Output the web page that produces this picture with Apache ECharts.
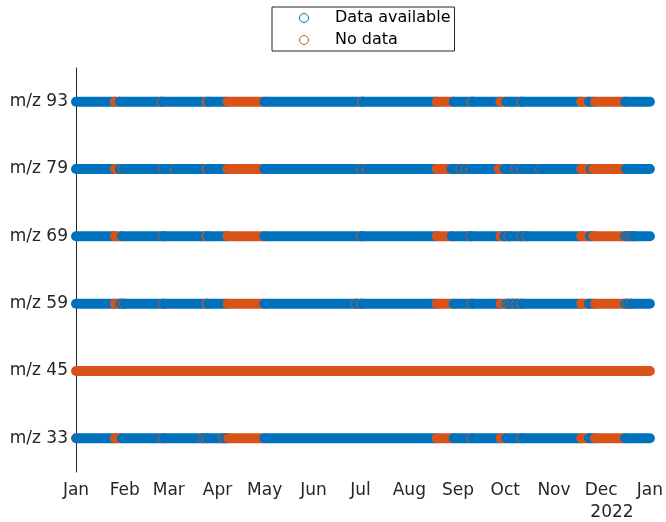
<!DOCTYPE html>
<html><head><meta charset="utf-8">
<script src="https://cdn.jsdelivr.net/npm/echarts@6/dist/echarts.min.js"></script>
<style>html,body{margin:0;padding:0;background:#fff}#c{width:666px;height:522px}</style>
</head><body><div id="c"></div>
<script>
// Channels, bottom to top
const categories = ['m/z 33', 'm/z 45', 'm/z 59', 'm/z 69', 'm/z 79', 'm/z 93'];
const monthLabels = ['Jan','Feb','Mar','Apr','May','Jun','Jul','Aug','Sep','Oct','Nov','Dec'];
const yearLabel = '2022';
const periodStart = '2022-01-01 00:00';
const periodEnd = '2023-01-01 00:00';

// "No data" periods per channel [start, end]; everything else is "Data available"
const gapsMz33 = [
  ['2022-01-01 00:00','2022-01-01 09:00'], ['2022-01-25 17:00','2022-01-30 04:00'],
  ['2022-02-25 03:00','2022-02-25 15:00'], ['2022-03-22 12:00','2022-03-23 00:00'],
  ['2022-03-25 00:00','2022-03-25 12:00'], ['2022-04-04 04:00','2022-04-04 16:00'],
  ['2022-04-06 01:00','2022-04-06 10:00'], ['2022-04-07 23:00','2022-04-30 18:00'],
  ['2022-08-18 09:00','2022-08-29 05:00'], ['2022-09-09 14:00','2022-09-10 02:00'],
  ['2022-09-28 00:00','2022-10-01 17:00'], ['2022-10-11 05:00','2022-10-11 17:00'],
  ['2022-11-18 07:00','2022-11-23 07:00'], ['2022-11-27 02:00','2022-12-16 05:00']
];
const gapsMz45 = [
  ['2022-01-01 00:00','2023-01-01 00:00']
];
const gapsMz59 = [
  ['2022-01-25 17:00','2022-01-28 21:00'], ['2022-01-29 12:00','2022-01-30 00:00'],
  ['2022-01-31 10:00','2022-01-31 22:00'], ['2022-02-25 03:00','2022-02-25 15:00'],
  ['2022-03-25 00:00','2022-03-25 23:00'], ['2022-04-07 08:00','2022-04-30 18:00'],
  ['2022-06-28 02:00','2022-06-28 14:00'], ['2022-07-01 06:00','2022-07-01 18:00'],
  ['2022-08-18 09:00','2022-08-29 05:00'], ['2022-09-09 14:00','2022-09-10 02:00'],
  ['2022-09-28 00:00','2022-10-01 17:00'], ['2022-10-03 00:00','2022-10-03 12:00'],
  ['2022-10-05 12:00','2022-10-06 00:00'], ['2022-10-08 02:00','2022-10-08 14:00'],
  ['2022-10-11 05:00','2022-10-11 17:00'], ['2022-11-18 07:00','2022-11-23 07:00'],
  ['2022-11-27 02:00','2022-12-16 05:00'], ['2022-12-17 12:00','2022-12-17 22:00'],
  ['2022-12-20 00:00','2022-12-20 10:00']
];
const gapsMz69 = [
  ['2022-01-25 17:00','2022-01-30 04:00'], ['2022-02-25 03:00','2022-02-25 15:00'],
  ['2022-03-25 00:00','2022-03-25 23:00'], ['2022-04-07 08:00','2022-04-30 18:00'],
  ['2022-07-01 06:00','2022-07-01 18:00'], ['2022-08-18 09:00','2022-08-27 21:00'],
  ['2022-09-08 22:00','2022-09-09 10:00'], ['2022-09-28 00:00','2022-09-30 12:00'],
  ['2022-10-03 00:00','2022-10-03 12:00'], ['2022-10-11 05:00','2022-10-11 17:00'],
  ['2022-10-14 10:00','2022-10-14 22:00'], ['2022-11-18 07:00','2022-11-24 00:00'],
  ['2022-11-25 22:00','2022-12-16 05:00'], ['2022-12-17 12:00','2022-12-17 22:00'],
  ['2022-12-19 10:00','2022-12-19 19:00'], ['2022-12-21 07:00','2022-12-21 17:00']
];
const gapsMz79 = [
  ['2022-01-25 17:00','2022-01-28 21:00'], ['2022-01-30 19:00','2022-01-31 07:00'],
  ['2022-02-25 03:00','2022-02-25 15:00'], ['2022-03-04 18:00','2022-03-05 06:00'],
  ['2022-03-25 00:00','2022-03-25 23:00'], ['2022-04-07 08:00','2022-04-30 18:00'],
  ['2022-07-01 06:00','2022-07-01 18:00'], ['2022-07-05 01:00','2022-07-05 13:00'],
  ['2022-08-18 09:00','2022-08-27 21:00'], ['2022-09-02 14:00','2022-09-03 02:00'],
  ['2022-09-05 19:00','2022-09-06 07:00'], ['2022-09-08 22:00','2022-09-09 10:00'],
  ['2022-09-26 17:00','2022-09-30 12:00'], ['2022-10-07 10:00','2022-10-07 22:00'],
  ['2022-10-11 05:00','2022-10-11 17:00'], ['2022-10-23 07:00','2022-10-23 19:00'],
  ['2022-11-18 07:00','2022-11-24 14:00'], ['2022-11-25 22:00','2022-12-16 19:00']
];
const gapsMz93 = [
  ['2022-01-25 17:00','2022-01-28 22:00'], ['2022-02-24 12:00','2022-02-25 02:00'],
  ['2022-03-25 00:00','2022-03-26 07:00'], ['2022-04-07 07:00','2022-04-30 19:00'],
  ['2022-07-01 22:00','2022-07-02 12:00'], ['2022-08-18 10:00','2022-08-29 05:00'],
  ['2022-09-09 14:00','2022-09-10 05:00'], ['2022-09-27 22:00','2022-10-01 17:00'],
  ['2022-10-11 07:00','2022-10-11 22:00'], ['2022-11-18 07:00','2022-11-23 07:00'],
  ['2022-11-27 02:00','2022-12-16 05:00']
];
const gapsByRow = [gapsMz33, gapsMz45, gapsMz59, gapsMz69, gapsMz79, gapsMz93];

const COLOR_AVAIL = '#0072BD';
const COLOR_NODATA = '#D95319';
const TEXT = '#262626';
const R = 5; // marker radius (px)

function toTime(s) {
  const [d, h] = s.split(' ');
  const [y, m, dd] = d.split('-').map(Number);
  const [hh, mi] = h.split(':').map(Number);
  return new Date(y, m - 1, dd, hh, mi).getTime();
}

// Build time-ordered segments for each row
const availData = [], noData = [];
gapsByRow.forEach((gaps, row) => {
  let cursor = toTime(periodStart);
  let order = 0;
  gaps.forEach(([s, e]) => {
    const ts = toTime(s), te = toTime(e);
    if (ts > cursor) availData.push([cursor, ts, row, order++]);
    noData.push([ts, te, row, order++]);
    cursor = te;
  });
  const endT = toTime(periodEnd);
  if (endT > cursor) availData.push([cursor, endT, row, order++]);
});

function renderItem(color) {
  return function (params, api) {
    const a = api.coord([api.value(0), api.value(2)]);
    const b = api.coord([api.value(1), api.value(2)]);
    return {
      type: 'rect',
      z2: api.value(3),
      shape: { x: a[0] - R, y: a[1] - R, width: (b[0] - a[0]) + 2 * R, height: 2 * R, r: R },
      style: { fill: color }
    };
  };
}

const chart = echarts.init(document.getElementById('c'), null, { renderer: 'canvas' });
chart.setOption({
  backgroundColor: '#fff',
  animation: false,
  textStyle: { fontFamily: 'DejaVu Sans' },
  grid: { left: 76, right: 14, top: 68, bottom: 50, containLabel: false },
  legend: {
    orient: 'vertical', left: 272, top: 7,
    padding: [3, 4, 3, 27],
    itemWidth: 52, itemHeight: 9, itemGap: 6,
    backgroundColor: '#fff', borderColor: TEXT, borderWidth: 1,
    textStyle: { fontFamily: 'DejaVu Sans', fontSize: 16, lineHeight: 16, color: '#000' },
    data: [
      { name: 'Data available', icon: 'circle', itemStyle: { color: 'rgba(0,0,0,0)', borderColor: COLOR_AVAIL, borderWidth: 1 } },
      { name: 'No data', icon: 'circle', itemStyle: { color: 'rgba(0,0,0,0)', borderColor: COLOR_NODATA, borderWidth: 1 } }
    ]
  },
  xAxis: {
    type: 'time',
    min: toTime(periodStart), max: toTime(periodEnd),
    minInterval: 28 * 86400000, maxInterval: 31 * 86400000,
    splitLine: { show: false },
    axisLine: { lineStyle: { color: TEXT, width: 1 } },
    axisTick: { inside: true, length: 6, lineStyle: { color: TEXT } },
    axisLabel: {
      color: TEXT, fontSize: 17, fontFamily: 'DejaVu Sans', margin: 10,
      showMinLabel: true, showMaxLabel: true, hideOverlap: false,
      formatter: v => monthLabels[new Date(v).getMonth()]
    }
  },
  yAxis: {
    type: 'category', data: categories, boundaryGap: true,
    axisLine: { lineStyle: { color: TEXT, width: 1 } },
    axisTick: { inside: true, length: 6, alignWithLabel: true, lineStyle: { color: TEXT } },
    axisLabel: { color: TEXT, fontSize: 17, fontFamily: 'DejaVu Sans', margin: 8 },
    splitLine: { show: false }
  },
  graphic: [{
    type: 'text', x: 612, y: 513,
    style: { text: yearLabel, align: 'center', verticalAlign: 'middle', font: '17px "DejaVu Sans"', fill: TEXT }
  }],
  series: [
    { name: 'Data available', type: 'custom', clip: false, itemStyle: { color: COLOR_AVAIL },
      encode: { x: [0, 1], y: 2 }, renderItem: renderItem(COLOR_AVAIL), data: availData },
    { name: 'No data', type: 'custom', clip: false, itemStyle: { color: COLOR_NODATA },
      encode: { x: [0, 1], y: 2 }, renderItem: renderItem(COLOR_NODATA), data: noData }
  ]
});
</script></body></html>
